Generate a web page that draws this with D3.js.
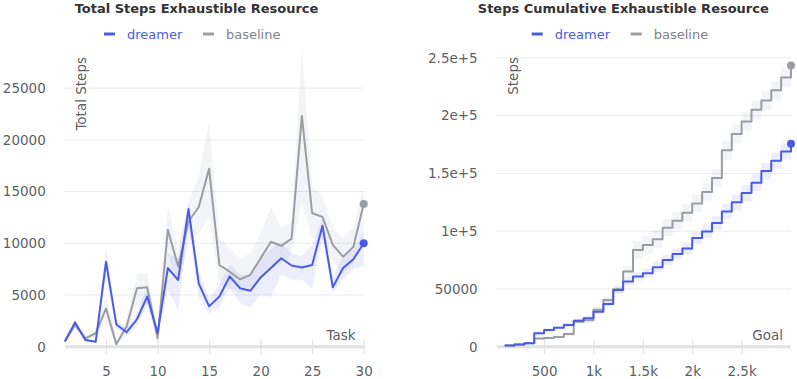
<!DOCTYPE html>
<html>
<head>
<meta charset="utf-8">
<script src="https://cdn.jsdelivr.net/npm/d3@7"></script>
<style>
  body { margin: 0; background: #fff; }
  text { font-family: "DejaVu Sans", sans-serif; }
</style>
</head>
<body>
<div id="chart"></div>
<script>
// Left panel: total steps per task
const tasks = [1,2,3,4,5,6,7,8,9,10,11,12,13,14,15,16,17,18,19,20,21,22,23,24,25,26,27,28,29,30];
const dreamerSteps = [500,2350,650,480,8200,2150,1400,2650,4850,1300,7600,6450,13300,6100,3900,4850,6800,5650,5400,6700,7600,8550,7850,7650,7900,11700,5750,7600,8450,10000];
const dreamerLo = [400,2000,500,350,7000,1700,1100,2000,4000,900,5500,3500,11500,4800,3200,3800,5700,4200,3800,5000,4800,7000,6500,6500,5600,10500,5200,6500,7500,7800];
const dreamerHi = [700,2700,800,650,9700,2600,1800,3300,5800,1800,9000,8500,14000,7200,4700,6000,8000,7000,6800,8500,9500,10100,9000,8800,9800,12500,6800,8800,9400,11200];
const baselineSteps = [500,2100,800,1300,3700,250,1950,5650,5750,800,11300,7750,12100,13500,17200,7900,7250,6500,6950,8550,10150,9750,10450,22300,12900,12550,9850,8700,9650,13800];
const baselineLo = [300,1800,600,1000,2500,0,1200,4000,4200,500,9000,6000,10000,11000,12500,6000,5500,5200,5500,6800,7500,8000,9000,14000,10500,10500,8200,7000,8000,11000];
const baselineHi = [700,2500,1000,1600,5000,700,2700,7000,7200,1500,13500,9500,14000,16500,21800,10500,9500,8500,9000,11000,13500,11500,12000,28800,15500,14500,11500,10500,11500,15500];

// Right panel: cumulative steps over goal
const goals = [100,200,300,400,500,600,700,800,900,1000,1100,1200,1300,1400,1500,1600,1700,1800,1900,2000,2100,2200,2300,2400,2500,2600,2700,2800,2900,3000];
const dreamerCum = [1000,2000,3000,11600,14500,16500,18800,22500,24600,30300,37000,49000,56400,60700,63600,68800,75000,80300,85000,94000,99700,107000,117000,125000,133000,142000,152000,161000,169000,175700];
const dreamerCumLo = [500,1500,2300,10000,12800,14800,17000,20500,22600,28000,34500,46000,53000,57000,59500,64500,70500,75500,80000,88500,94000,101000,110500,118000,126000,135000,145000,154000,162000,169000];
const dreamerCumHi = [1500,2600,3700,13200,16200,18200,20600,24500,26600,32600,39500,52000,59800,64400,67700,73100,79500,85100,90000,99500,105400,113000,123500,132000,140000,149000,159000,168000,176000,182500];
const baselineCum = [1000,2000,3000,7200,7600,8400,11000,21700,22800,32000,40500,49700,65000,83800,88000,93000,103000,109000,116000,124000,134000,146000,170000,184000,195000,205000,213000,222000,233000,243300];
const baselineCumLo = [500,1500,2300,5800,6200,7000,9300,19500,20600,29500,37500,46500,60000,76000,80000,85500,95500,101500,108500,116500,126500,138500,161500,176000,187000,197000,205000,214000,225000,235500];
const baselineCumHi = [1500,2600,3700,8600,9000,9800,12700,23900,25000,34500,43500,53000,70000,91500,96000,100500,110500,116500,123500,131500,141500,153500,178500,192000,203000,213000,221000,230000,241000,251000];

const leftYTicks = [0,5000,10000,15000,20000,25000];
const leftXTicks = [5,10,15,20,25,30];
const rightYTicks = [0,50000,100000,150000,200000,250000];
const rightYLabels = ["0","50000","1e+5","1.5e+5","2e+5","2.5e+5"];
const rightXTicks = [500,1000,1500,2000,2500];
const rightXLabels = ["500","1k","1.5k","2k","2.5k"];

const blue = "#4a5be6";
const gray = "#9a9ea3";
const labelColor = "#5b5f66";

const svg = d3.select("#chart")
    .append("svg")
    .attr("width", 797)
    .attr("height", 379);

function panel(opts) {
    const g = svg.append("g");
    const x = opts.x, y = opts.y;
    const [x0, x1] = x.range();

    // gridlines
    g.selectAll(".grid")
        .data(opts.yTicks.filter(d => d > 0))
        .enter().append("line")
        .attr("x1", x0).attr("x2", x1)
        .attr("y1", d => y(d)).attr("y2", d => y(d))
        .style("stroke", "#ebebee")
        .style("stroke-width", 1);

    // y labels
    const yAxis = g.append("g")
        .attr("transform", `translate(${x0},0)`)
        .call(d3.axisLeft(y).tickValues(opts.yTicks).tickSize(0).tickPadding(19)
            .tickFormat((d, i) => opts.yLabels[i]));
    yAxis.select(".domain").remove();
    yAxis.selectAll("text").style("font-size", "13.5px").style("fill", labelColor)
        .style("font-family", "DejaVu Sans");

    // x axis
    const xAxis = g.append("g")
        .attr("transform", `translate(0,${y(0)})`)
        .call(d3.axisBottom(x).tickValues(opts.xTicks).tickSize(7)
            .tickFormat((d, i) => opts.xLabels[i]));
    xAxis.select(".domain").remove();
    xAxis.selectAll("line").attr("y1", -7).attr("y2", 7)
        .style("stroke", "#e2e2e5").style("stroke-width", 1.2);
    xAxis.selectAll("text").attr("y", 20).style("font-size", "13.5px")
        .style("fill", labelColor).style("font-family", "DejaVu Sans");
    g.append("line")
        .attr("x1", x0).attr("x2", x1)
        .attr("y1", y(0)).attr("y2", y(0))
        .style("stroke", "#e2e2e5")
        .style("stroke-width", 3);

    // bands and lines
    opts.series.forEach(s => {
        const pts = opts.xs.map((v, i) => ({x: v, y: s.values[i], lo: s.lo[i], hi: s.hi[i]}));
        g.append("path")
            .datum(pts)
            .attr("d", d3.area().curve(opts.curve)
                .x(d => x(d.x)).y0(d => y(d.lo)).y1(d => y(d.hi)))
            .style("fill", s.band);
    });
    opts.series.forEach(s => {
        const pts = opts.xs.map((v, i) => ({x: v, y: s.values[i]}));
        g.append("path")
            .datum(pts)
            .attr("d", d3.line().curve(opts.curve).x(d => x(d.x)).y(d => y(d.y)))
            .style("fill", "none")
            .style("stroke", s.color)
            .style("stroke-width", 2)
            .style("stroke-linejoin", "round");
        const last = pts[pts.length - 1];
        g.append("circle")
            .attr("cx", x(last.x)).attr("cy", y(last.y)).attr("r", 4)
            .style("fill", s.color);
    });

    // axis titles
    g.append("text")
        .attr("transform", `translate(${x0 + 21},${opts.yTitleTop}) rotate(-90)`)
        .attr("text-anchor", "end")
        .style("font-size", "13.5px")
        .style("fill", labelColor)
        .text(opts.yTitle);
    g.append("text")
        .attr("x", x1 - 8).attr("y", y(0) - 7)
        .attr("text-anchor", "end")
        .style("font-size", "13.5px")
        .style("fill", labelColor)
        .text(opts.xTitle);

    // title
    g.append("text")
        .attr("x", opts.titleX).attr("y", 13)
        .attr("text-anchor", "middle")
        .style("font-size", "13px")
        .style("font-weight", "bold")
        .style("fill", "#333")
        .text(opts.title);

    // legend
    const lg = g.append("g").attr("transform", `translate(${opts.legendX},34)`);
    [["dreamer", blue, blue, 0], ["baseline", gray, "#7f8389", 99]].forEach(([name, c, tc, dx]) => {
        lg.append("line").attr("x1", dx).attr("x2", dx + 11).attr("y1", 0).attr("y2", 0)
            .style("stroke", c).style("stroke-width", 3);
        lg.append("text").attr("x", dx + 23).attr("y", 0).attr("dy", "0.35em")
            .style("font-size", "13px").style("fill", tc).text(name);
    });
}

panel({
    x: d3.scaleLinear().domain([1, 30]).range([64.8, 363.7]),
    y: d3.scaleLinear().domain([0, 29000]).range([346.7, 46.7]),
    xs: tasks,
    curve: d3.curveLinear,
    yTicks: leftYTicks,
    yLabels: leftYTicks.map(String),
    xTicks: leftXTicks,
    xLabels: leftXTicks.map(String),
    series: [
        {values: baselineSteps, lo: baselineLo, hi: baselineHi, color: gray, band: "rgba(160,170,190,0.13)"},
        {values: dreamerSteps, lo: dreamerLo, hi: dreamerHi, color: blue, band: "rgba(80,100,230,0.11)"}
    ],
    yTitle: "Total Steps",
    yTitleTop: 57,
    xTitle: "Task",
    title: "Total Steps Exhaustible Resource",
    titleX: 196.5,
    legendX: 104
});

panel({
    x: d3.scaleLinear().domain([20, 3000]).range([496.7, 791]),
    y: d3.scaleLinear().domain([0, 262000]).range([346.7, 44]),
    xs: goals,
    curve: d3.curveStepAfter,
    yTicks: rightYTicks,
    yLabels: rightYLabels,
    xTicks: rightXTicks,
    xLabels: rightXLabels,
    series: [
        {values: baselineCum, lo: baselineCumLo, hi: baselineCumHi, color: gray, band: "rgba(160,170,190,0.13)"},
        {values: dreamerCum, lo: dreamerCumLo, hi: dreamerCumHi, color: blue, band: "rgba(80,100,230,0.11)"}
    ],
    yTitle: "Steps",
    yTitleTop: 57,
    xTitle: "Goal",
    title: "Steps Cumulative Exhaustible Resource",
    titleX: 623.3,
    legendX: 531.7
});
</script>
</body>
</html>
